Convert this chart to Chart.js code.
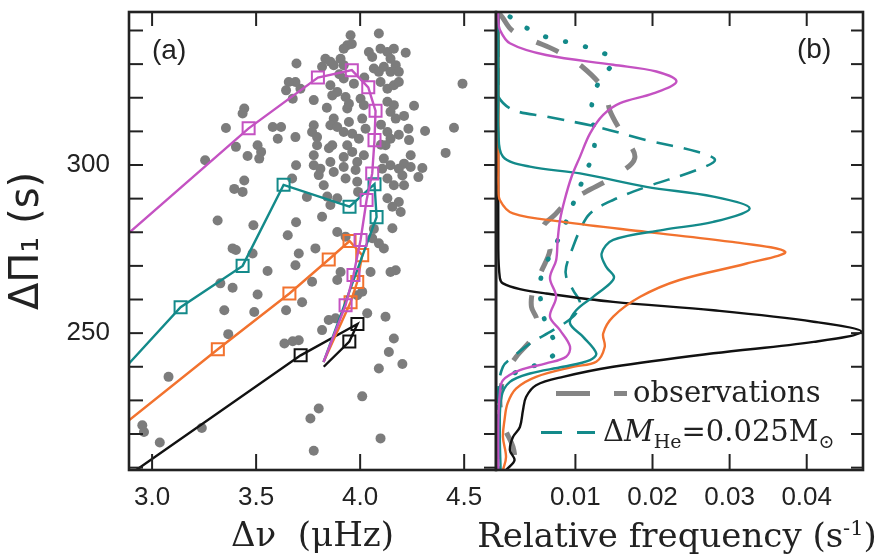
<!DOCTYPE html>
<html>
<head>
<meta charset="utf-8">
<script src="https://cdn.jsdelivr.net/npm/chart.js@4.4.0/dist/chart.umd.min.js"></script>
<style>
body { margin: 0; background: #fff; width: 896px; height: 556px; overflow: hidden; position: relative; font-family: "Liberation Sans", Arial, sans-serif; color: #222; }
canvas { position: absolute; top: 0; }
#panelA { left: 0; }
#panelB { left: 440px; }
.tag { position: absolute; font-size: 28px; }
.seg { position: absolute; }
.leg { position: absolute; font-family: "DejaVu Serif", serif; font-size: 29px; white-space: nowrap; line-height: 1; }
.leg sub { font-size: 19px; }
#freqTitle { position: absolute; left: 377px; width: 600px; top: 518px; text-align: center; font-family: "DejaVu Serif", serif; font-size: 34px; line-height: 34px; white-space: nowrap; }
#freqTitle sup { font-size: 21px; line-height: 0; }
</style>
</head>
<body>
<canvas id="panelA" width="500" height="556"></canvas>
<canvas id="panelB" width="456" height="556"></canvas>

<div class="tag" style="left:152px; top:34px;">(a)</div>
<div class="tag" style="left:797px; top:33px;">(b)</div>
<div id="freqTitle">Relative frequency (s<sup>-1</sup>)</div>

<!-- legend of panel (b) -->
<div class="seg" style="left:556px; top:391px; width:34px; height:5px; background:#858585;"></div>
<div class="seg" style="left:614px; top:391px; width:13px; height:5px; background:#858585;"></div>
<div class="leg" style="left:633px; top:378px;">observations</div>
<div class="seg" style="left:541px; top:431px; width:21px; height:3px; background:#138a8a;"></div>
<div class="seg" style="left:577px; top:431px; width:18px; height:3px; background:#138a8a;"></div>
<div class="leg" style="left:603px; top:417px;">&Delta;<i>M</i><sub>He</sub>=0.025M<sub>&#8857;</sub></div>

<script>
// axis ranges and ticks
const periodMin = 209.3, periodMax = 345.5;
const periodTicks = [210, 220, 230, 240, 250, 260, 270, 280, 290, 300, 310, 320, 330, 340];
const periodLabels = [250, 300];
const dnuMin = 2.889, dnuMax = 4.653;
const dnuTicks = [3.0, 3.5, 4.0, 4.5];
const freqMin = -0.0003, freqMax = 0.0473;
const freqTicks = [0.01, 0.02, 0.03, 0.04];

// (a) observed stars: [delta nu (uHz), delta Pi1 (s)]
const stars = [
  [3.954,338.6],[4.090,339.1],[3.938,335.6],[3.921,334.6],[3.694,330.2],[3.833,331.6],[3.857,330.7],[3.873,329.7],
  [3.817,329.2],[3.906,331.6],[3.921,329.7],[4.042,333.6],[4.058,332.1],[4.098,334.6],[4.131,333.6],[4.146,331.6],
  [4.162,334.6],[4.066,328.7],[4.090,327.7],[4.114,329.2],[4.146,327.7],[4.171,329.7],[4.098,324.7],[4.131,322.7],
  [4.162,323.7],[3.857,323.7],[3.890,321.7],[3.866,320.7],[3.921,325.7],[3.970,324.2],[3.713,322.7],[3.689,324.7],
  [3.777,319.3],[3.930,320.2],[3.938,316.8],[3.946,318.2],[4.002,319.7],[4.018,317.8],[4.131,318.8],[4.162,317.8],
  [4.146,315.8],[4.171,313.8],[3.873,313.8],[3.857,311.8],[3.890,311.3],[3.777,311.8],[3.769,309.8],[3.793,308.3],
  [3.946,312.8],[3.921,309.8],[3.962,309.3],[4.010,313.8],[4.026,310.8],[3.994,307.8],[4.131,309.8],[4.146,307.8],
  [4.122,305.9],[3.689,308.3],[3.793,305.9],[3.777,302.9],[3.866,305.9],[3.938,305.9],[3.962,303.9],[3.921,302.4],
  [4.018,302.9],[3.986,300.9],[4.114,301.9],[4.146,299.9],[4.106,298.9],[3.777,299.9],[3.809,298.9],[3.857,300.9],
  [3.921,299.4],[3.657,324.7],[3.644,322.2],[3.676,319.7],[3.443,316.8],[3.435,315.3],[3.355,311.0],[3.580,311.3],
  [3.620,311.3],[3.604,307.8],[3.403,305.4],[3.507,305.9],[3.524,303.9],[3.459,302.7],[3.515,301.9],[3.255,301.4],
  [3.692,299.9],[3.443,295.4],[3.395,292.9],[3.435,292.0],[3.315,283.5],[3.487,282.1],[3.692,283.0],[3.652,279.1],
  [3.387,275.2],[3.403,274.7],[3.483,273.7],[3.555,268.5],[3.328,264.8],[3.387,263.5],[3.507,261.5],[3.347,256.8],
  [3.491,256.3],[3.644,256.8],[3.366,249.7],[3.636,246.9],[3.676,247.6],[3.079,237.0],[2.953,222.6],[2.961,220.6],
  [3.239,221.8],[3.037,217.5],[4.219,333.4],[4.186,327.7],[4.186,324.7],[4.492,324.2],[4.259,317.6],[4.211,314.6],
  [4.232,310.8],[4.186,309.0],[4.312,310.1],[4.451,311.1],[4.235,307.4],[4.411,303.6],[4.243,302.9],[4.211,300.4],
  [4.243,299.4],[4.186,298.9],[4.299,299.1],[4.280,296.4],[4.203,296.9],[4.211,294.0],[4.186,289.0],[4.195,286.0],
  [4.171,268.7],[3.801,297.0],[3.825,294.0],[3.873,297.9],[3.930,296.0],[3.978,298.5],[3.986,295.0],[3.842,290.6],
  [3.890,290.1],[3.857,288.1],[4.131,296.0],[4.162,294.0],[4.131,290.1],[4.155,287.6],[3.817,284.6],[3.890,280.1],
  [3.930,278.7],[4.058,278.2],[4.090,276.7],[4.114,275.2],[4.155,281.2],[3.705,273.7],[3.689,270.2],[3.785,275.2],
  [4.146,268.2],[3.906,268.2],[3.890,265.8],[4.050,268.2],[3.769,265.3],[3.986,261.3],[4.010,262.3],[3.721,259.2],
  [4.034,255.9],[4.122,254.9],[3.882,254.4],[3.705,247.9],[3.817,250.9],[3.849,253.9],[4.162,248.4],[4.138,244.4],
  [4.203,240.8],[4.090,239.5],[4.010,231.2],[3.801,227.6],[3.761,224.6],[4.098,218.7],[3.777,215.0],[3.673,296.0],
  [4.066,281.0],[3.744,290.5],[3.850,305.0],[3.990,292.0],[4.100,312.0],[3.960,336.0],[4.020,326.0],[3.840,317.0],
  [4.100,306.0],[3.900,327.0]
];

// (a) model tracks: [delta nu, delta Pi1]
const trackMagenta = [[2.889,279.8],[3.464,310.9],[3.797,326.0],[3.960,328.2],[4.039,323.1],[4.074,316.1],[4.069,307.4],
  [4.058,297.5],[4.031,289.6],[4.002,277.7],[3.968,267.3],[3.930,258.3],[3.824,241.4]];
const trackTeal = [[2.889,241.0],[3.137,257.7],[3.435,270.0],[3.632,294.1],[3.949,287.6],[4.069,294.3],[4.079,284.5],[3.824,241.4]];
const trackOrange = [[2.889,224.1],[3.316,245.2],[3.660,261.8],[3.849,271.9],[3.949,277.4],[4.010,273.2],[3.986,265.2],
  [3.954,259.2],[3.824,241.4]];
const trackBlack = [[2.889,207.8],[3.714,243.4],[3.987,252.7],[3.948,247.5],[3.825,240.0]];

// (b) period distributions: [relative frequency, delta Pi1]
const distBlack = [[0,345.5],[0,275],[0.0002,266.4],[0.0006,264.8],[0.0028,263.1],[0.0062,261.8],[0.0149,259.3],[0.0279,256.8],
  [0.0409,253.4],[0.0471,250.4],[0.0409,247.4],[0.0279,244.0],[0.0149,240.0],[0.0084,237.0],[0.0049,234.5],[0.0036,231.0],
  [0.0032,227.1],[0.0028,222.1],[0.0019,219.1],[0.0015,215.2],[0.0021,212.2],[0.0010,209.3]];
const distOrange = [[0,345.5],[0,298.5],[0,294.0],[0.0002,289.6],[0.0019,285.6],[0.0084,283.1],[0.0192,280.1],[0.0300,277.2],
  [0.0372,274.2],[0.0322,270.7],[0.0235,265.8],[0.0184,260.8],[0.0149,254.9],[0.0136,249.9],[0.0138,245.9],[0.0127,241.5],
  [0.0097,240.0],[0.0049,237.0],[0.0023,233.5],[0.0012,229.1],[0.0008,224.1],[0.0006,219.1],[0.0010,213.2],[0.0006,209.3]];
const distTeal = [[0,345.5],[0,319.3],[0,310.4],[0.0006,302.5],[0.0041,299.5],[0.0106,297.5],[0.0192,293.5],[0.0279,290.6],
  [0.0326,287.1],[0.0279,283.1],[0.0214,280.7],[0.0149,277.7],[0.0134,273.7],[0.0140,269.7],[0.0150,266.8],[0.0145,264.8],
  [0.0123,260.8],[0.0101,256.8],[0.0093,252.9],[0.0110,248.9],[0.0127,244.0],[0.0119,242.0],[0.0084,240.0],[0.0041,238.0],
  [0.0015,235.5],[0.0004,231.0],[0.0002,220],[0.0003,209.3]];
const distMagenta = [[0,345.5],[0,343.2],[0.0002,340.2],[0.0015,336.2],[0.0062,332.7],[0.0149,329.8],[0.0205,327.8],[0.0231,324.8],
  [0.0201,321.3],[0.0158,318.4],[0.0136,314.9],[0.0119,309.4],[0.0106,302.5],[0.0095,296.5],[0.0086,289.6],[0.0080,283.6],
  [0.0077,277.7],[0.0075,271.7],[0.0067,266.4],[0.0075,260.8],[0.0067,254.9],[0.0080,250.9],[0.0093,246.0],[0.0088,243.0],
  [0.0062,241.0],[0.0028,239.0],[0.0006,236.0],[0.0002,232.1],[0,224],[0,209.3]];
const distHe025 = [[0,345.5],[0,323.8],[0,320.3],[0.0019,316.4],[0.0062,314.4],[0.0127,311.4],[0.0192,307.4],[0.0257,304.0],
  [0.0281,301.5],[0.0257,298.5],[0.0192,293.5],[0.0149,289.6],[0.0119,285.6],[0.0106,280.7],[0.0097,275.7],[0.0088,269.7],
  [0.0088,266.8],[0.0097,262.8],[0.0106,258.8],[0.0097,254.9],[0.0071,250.9],[0.0041,246.9],[0.0019,242.9],[0.0006,240.0],
  [0,233.0],[0,209.3]];
const distDotted = [[0.0015,344.1],[0.0041,340.2],[0.0067,337.7],[0.0097,336.2],[0.0125,334.2],[0.0149,331.2],[0.0132,325.3],
  [0.0123,320.3],[0.0121,314.9],[0.0125,309.4],[0.0123,303.5],[0.0112,297.0],[0.0099,289.6],[0.0086,282.1],[0.0071,274.7],
  [0.0058,268.8],[0.0054,262.8],[0.0060,253.9],[0.0075,244.9],[0.0054,241.0],[0.0028,239.0],[0.0010,236.0],[0,231.5],[0,209.3]];
const distObs = [[0,345.5],[0.0005,344],[0.0018,340],[0.0045,337],[0.0075,334],[0.0110,329],[0.0138,322.0],[0.0145,316.0],
  [0.0160,309.5],[0.0177,302.1],[0.0149,296.5],[0.0114,292.1],[0.0088,288.6],[0.0073,285.1],[0.0058,281.6],[0.0062,277],
  [0.0067,274.7],[0.0055,268],[0.0045,262.8],[0.0043,257.8],[0.0050,253.9],[0.0045,248.9],[0.0023,242.9],[0.0008,237.5],
  [0.0002,230.1],[0.0008,222],[0.0019,216.2],[0.0023,210.2]];

const MAGENTA = '#c452c2', TEAL = '#138a8a', ORANGE = '#f2722e', BLACK = '#111', GREY = '#7c7c7c';

function pts(arr) {
  return arr.map(p => ({ x: p[0], y: p[1] }));
}

function track(arr, color) {
  const last = arr.length - 1;
  return {
    data: pts(arr),
    showLine: true,
    borderColor: color,
    borderWidth: 2.4,
    tension: 0,
    pointStyle: 'rect',
    pointBorderColor: color,
    pointBackgroundColor: 'rgba(0,0,0,0)',
    pointBorderWidth: 2,
    pointRadius: ctx => (ctx.dataIndex === 0 || ctx.dataIndex === last) ? 0 : 8.5
  };
}

function dist(arr, color, extra) {
  return Object.assign({
    data: pts(arr),
    showLine: true,
    borderColor: color,
    borderWidth: 2.4,
    tension: 0.35,
    pointRadius: 0
  }, extra || {});
}

// frame + inward tick marks drawn from the scales
const frameTicks = {
  id: 'frameTicks',
  afterDatasetsDraw(chart, args, opts) {
    const { ctx, chartArea: a, scales } = chart;
    const seg = (x1, y1, x2, y2) => { ctx.beginPath(); ctx.moveTo(x1, y1); ctx.lineTo(x2, y2); ctx.stroke(); };
    ctx.save();
    ctx.strokeStyle = '#222';
    ctx.lineWidth = 2;
    scales.x.ticks.forEach(t => {
      const px = scales.x.getPixelForValue(t.value);
      seg(px, a.bottom, px, a.bottom - 16);
      seg(px, a.top, px, a.top + 14);
    });
    scales.y.ticks.forEach(t => {
      const py = scales.y.getPixelForValue(t.value);
      if (opts.left) seg(a.left, py, a.left + 14, py);
      seg(a.right, py, a.right - 12, py);
    });
    ctx.lineWidth = 2.6;
    ctx.strokeRect(a.left, a.top, a.right - a.left, a.bottom - a.top);
    ctx.restore();
  }
};

const tickFont = { family: 'Liberation Sans, Arial, sans-serif', size: 26 };
const titleFont = { family: 'DejaVu Serif, serif', size: 34, lineHeight: 1.1 };

function noPad(s) {
  s.paddingTop = 0; s.paddingBottom = 0; s.paddingLeft = 0; s.paddingRight = 0;
}

function periodAxis(showLabels, width) {
  return {
    type: 'linear',
    min: periodMin,
    max: periodMax,
    grid: { display: false, drawTicks: false },
    border: { display: false },
    afterBuildTicks: s => { s.ticks = periodTicks.map(v => ({ value: v })); },
    afterFit: s => { s.width = width; noPad(s); },
    ticks: {
      display: showLabels,
      autoSkip: false,
      padding: 19,
      color: '#222',
      font: tickFont,
      callback: v => periodLabels.includes(v) ? String(v) : ''
    },
    title: {
      display: showLabels,
      text: 'ΔΠ₁ (s)',
      color: '#222',
      font: { family: 'DejaVu Sans, sans-serif', size: 40, lineHeight: 1.2 },
      padding: { top: 4, bottom: 0 }
    }
  };
}

function bottomAxis(min, max, ticks, digits, title) {
  return {
    type: 'linear',
    min: min,
    max: max,
    grid: { display: false, drawTicks: false },
    border: { display: false },
    afterBuildTicks: s => { s.ticks = ticks.map(v => ({ value: v })); },
    afterFit: s => { s.height = 86; noPad(s); },
    ticks: {
      autoSkip: false,
      maxRotation: 0,
      padding: 12,
      color: '#222',
      font: tickFont,
      callback: v => v.toFixed(digits)
    },
    title: { display: !!title, text: title, color: '#222', font: titleFont, padding: { top: 0, bottom: 0 } }
  };
}

const common = {
  responsive: false,
  animation: false,
  events: [],
  plugins: { legend: { display: false }, tooltip: { enabled: false } }
};

// Panel (a)
new Chart(document.getElementById('panelA'), {
  type: 'scatter',
  data: {
    datasets: [
      track(trackMagenta, MAGENTA),
      track(trackTeal, TEAL),
      track(trackOrange, ORANGE),
      track(trackBlack, BLACK),
      { data: pts(stars), pointRadius: 5, pointBackgroundColor: GREY, pointBorderWidth: 0, showLine: false }
    ]
  },
  options: Object.assign({}, common, {
    layout: { padding: { top: 12, right: 4, left: 0, bottom: 0 }, autoPadding: false },
    scales: {
      x: bottomAxis(dnuMin, dnuMax, dnuTicks, 1, 'Δν  (μHz)'),
      y: periodAxis(true, 129)
    },
    plugins: Object.assign({}, common.plugins, { frameTicks: { left: true } })
  }),
  plugins: [frameTicks]
});

// Panel (b) - its axis title is wider than the panel, so it sits in #freqTitle
new Chart(document.getElementById('panelB'), {
  type: 'scatter',
  data: {
    datasets: [
      dist(distMagenta, MAGENTA),
      dist(distTeal, TEAL),
      dist(distOrange, ORANGE),
      dist(distBlack, BLACK),
      dist(distHe025, TEAL, { borderDash: [17, 11], borderWidth: 2.6 }),
      dist(distDotted, TEAL, { borderDash: [0.5, 20], borderWidth: 4.8, borderCapStyle: 'round' }),
      dist(distObs, '#858585', { borderDash: [24, 26], borderWidth: 5 })
    ]
  },
  options: Object.assign({}, common, {
    layout: { padding: { top: 12, right: 33, left: 56, bottom: 0 }, autoPadding: false },
    scales: {
      x: bottomAxis(freqMin, freqMax, freqTicks, 2, ''),
      y: periodAxis(false, 0)
    },
    plugins: Object.assign({}, common.plugins, { frameTicks: { left: false } })
  }),
  plugins: [frameTicks]
});
</script>
</body>
</html>
